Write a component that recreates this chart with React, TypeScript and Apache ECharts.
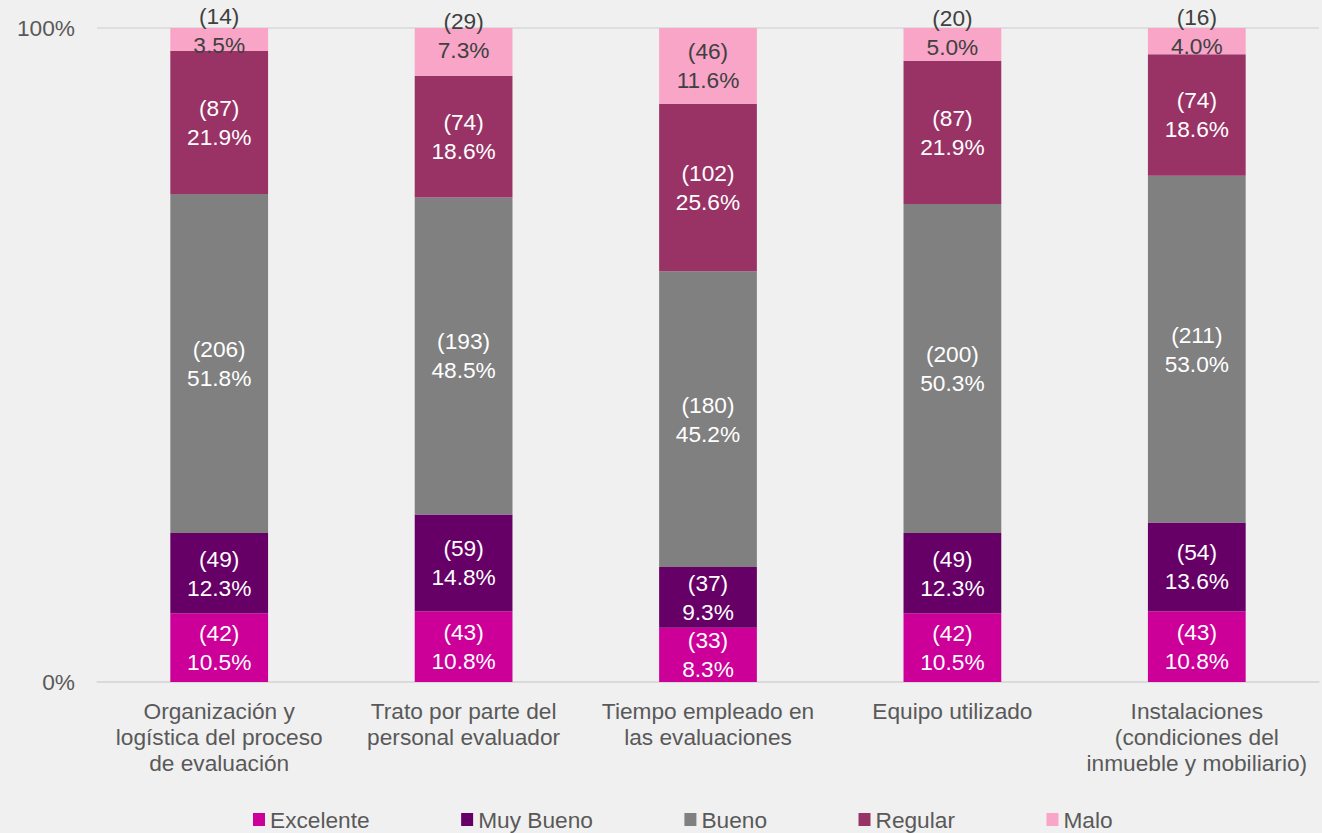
import React, { useEffect, useRef } from "react";
import * as echarts from "echarts";

const categories = [
  "Organización y\nlogística del proceso\nde evaluación",
  "Trato por parte del\npersonal evaluador",
  "Tiempo empleado en\nlas evaluaciones",
  "Equipo utilizado",
  "Instalaciones\n(condiciones del\ninmueble y mobiliario)",
];
const seriesNames = ["Excelente", "Muy Bueno", "Bueno", "Regular", "Malo"];
const colors = ["#cc0099", "#660066", "#808080", "#993366", "#f8a5c8"];

const excelentePct = [10.5, 10.8, 8.3, 10.5, 10.8];
const muyBuenoPct = [12.3, 14.8, 9.3, 12.3, 13.6];
const buenoPct = [51.8, 48.5, 45.2, 50.3, 53.0];
const regularPct = [21.9, 18.6, 25.6, 21.9, 18.6];
const maloPct = [3.5, 7.3, 11.6, 5.0, 4.0];

const excelenteN = [42, 43, 33, 42, 43];
const muyBuenoN = [49, 59, 37, 49, 54];
const buenoN = [206, 193, 180, 200, 211];
const regularN = [87, 74, 102, 87, 74];
const maloN = [14, 29, 46, 20, 16];

const yTicks = [0, 100];

const pcts = [excelentePct, muyBuenoPct, buenoPct, regularPct, maloPct];
const counts = [excelenteN, muyBuenoN, buenoN, regularN, maloN];

const FONT = "Liberation Sans, Arial, sans-serif";
const FS = 22.7;

export default function App() {
  const ref = useRef<HTMLDivElement>(null);
  useEffect(() => {
    if (!ref.current) return;
    const chart = echarts.init(ref.current, null, { renderer: "svg" });
    chart.setOption({
      animation: false,
      backgroundColor: "#f0f0f0",
      textStyle: { fontFamily: FONT },
      grid: { left: 97, right: 3, top: 28, bottom: 151 },
      legend: {
        top: 803,
        left: 248,
        icon: "rect",
        itemWidth: 12,
        itemHeight: 13,
        itemGap: 91.5,
        textStyle: { fontSize: FS, color: "#595959", fontFamily: FONT },
        data: seriesNames,
      },
      xAxis: {
        type: "category",
        data: categories,
        axisTick: { show: false },
        axisLine: { lineStyle: { color: "#d9d9d9", width: 1.5 } },
        axisLabel: {
          fontSize: FS,
          color: "#595959",
          lineHeight: 26,
          margin: 16,
          interval: 0,
          fontFamily: FONT,
        },
      },
      yAxis: {
        type: "value",
        min: 0,
        max: 100,
        interval: 100,
        axisLabel: {
          fontSize: FS,
          color: "#595959",
          margin: 22,
          fontFamily: FONT,
          formatter: (v: number) => (yTicks.includes(v) ? v + "%" : ""),
        },
        axisLine: { show: false },
        axisTick: { show: false },
        splitLine: { lineStyle: { color: "#d9d9d9", width: 1.5 } },
      },
      series: seriesNames.map((name, s) => ({
        name,
        type: "bar",
        stack: "total",
        barWidth: "40%",
        itemStyle: { color: colors[s] },
        data: pcts[s],
        label: {
          show: true,
          position: "inside",
          fontSize: FS,
          lineHeight: 29,
          fontFamily: FONT,
          color: s === 4 ? "#404040" : "#ffffff",
          formatter: (p: any) =>
            `(${counts[s][p.dataIndex]})\n${pcts[s][p.dataIndex].toFixed(1)}%`,
        },
        labelLayout:
          s === 4
            ? (p: any) => {
                const r = p.rect;
                const lr = p.labelRect;
                if (lr.height > r.height) {
                  return {
                    x: r.x + r.width / 2,
                    y: r.y + r.height * 0.2 - 2,
                    align: "center",
                    verticalAlign: "middle",
                  };
                }
                return {};
              }
            : undefined,
      })),
    });
    return () => chart.dispose();
  }, []);
  return (
    <div
      ref={ref}
      style={{ position: "fixed", left: 0, top: 0, width: 1322, height: 833 }}
    />
  );
}
